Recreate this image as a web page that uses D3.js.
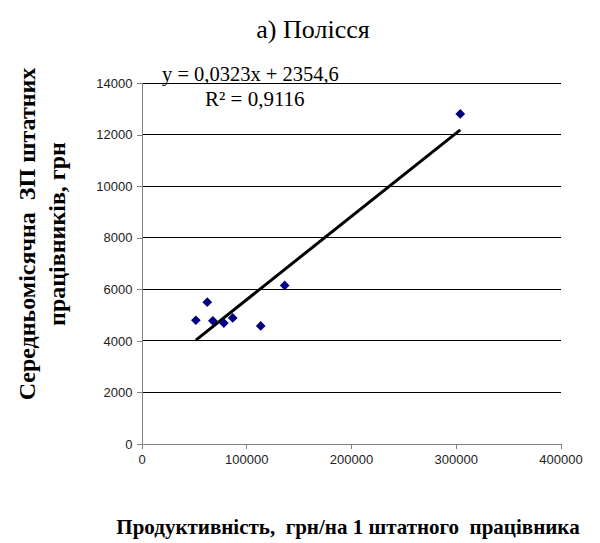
<!DOCTYPE html>
<html><head><meta charset="utf-8">
<script src="https://cdn.jsdelivr.net/npm/d3@7"></script>
<style>body{margin:0;background:#fff}</style>
</head><body>
<svg id="c" width="600" height="543"></svg>
<script>
const xValues = [51900, 62800, 68100, 78600, 87100, 113800, 136700, 304300];
const yValues = [4800, 5500, 4780, 4690, 4890, 4580, 6150, 12800];
const xTicks = [0, 100000, 200000, 300000, 400000];
const yTicks = [0, 2000, 4000, 6000, 8000, 10000, 12000, 14000];
const slope = 0.0323, intercept = 2354.6;
const title = "а) Полісся";
const eqText = "y = 0,0323x + 2354,6";
const r2Text = "R² = 0,9116";
const yTitle = ["Середньомісячна  ЗП штатних", "працівників, грн"];
const xTitle = "Продуктивність,  грн/на 1 штатного  працівника";

const svg = d3.select("#c");
const L = 141.5, R = 560.5, T = 83, B = 444;
const x = d3.scaleLinear().domain([0, 400000]).range([L, R]);
const y = d3.scaleLinear().domain([0, 14000]).range([B, T]);

// gridlines
svg.append("g").selectAll("line").data(yTicks.filter(d => d > 0)).join("line")
  .attr("x1", L).attr("x2", R).attr("y1", d => y(d)).attr("y2", d => y(d))
  .attr("stroke", "#000").attr("stroke-width", 1).attr("shape-rendering", "crispEdges");

const yAxis = svg.append("g").attr("transform", `translate(${L},0)`)
  .call(d3.axisLeft(y).tickValues(yTicks).tickSize(5).tickPadding(4).tickFormat(d3.format("d")));
const xAxis = svg.append("g").attr("transform", `translate(0,${B})`)
  .call(d3.axisBottom(x).tickValues(xTicks).tickSize(5).tickPadding(6).tickFormat(d3.format("d")));
[yAxis, xAxis].forEach(a => {
  a.selectAll("path,line").attr("stroke", "#808080").attr("shape-rendering", "crispEdges");
  a.selectAll("text").attr("font-family", "Liberation Sans, Arial, sans-serif").attr("font-size", 13).attr("fill", "#222");
});

// trend line
const xMin = d3.min(xValues), xMax = d3.max(xValues);
svg.append("line")
  .attr("x1", x(xMin)).attr("y1", y(slope * xMin + intercept))
  .attr("x2", x(xMax)).attr("y2", y(slope * xMax + intercept))
  .attr("stroke", "#000").attr("stroke-width", 3);

// points
const sym = d3.symbol().type(d3.symbolDiamond2).size(60);
svg.append("g").selectAll("path").data(xValues.map((v, i) => [v, yValues[i]])).join("path")
  .attr("d", sym)
  .attr("transform", d => `translate(${x(d[0])},${y(d[1])})`)
  .attr("fill", "#000080");

const serif = "Liberation Serif, Times New Roman, serif";
svg.append("text").attr("x", 313).attr("y", 38).attr("text-anchor", "middle")
  .attr("font-family", serif).attr("font-size", 26).text(title);
svg.append("text").attr("x", 162).attr("y", 81)
  .attr("font-family", serif).attr("font-size", 20.5).text(eqText);
svg.append("text").attr("x", 205).attr("y", 106)
  .attr("font-family", serif).attr("font-size", 21).text(r2Text);

const yt = svg.append("text").attr("transform", "rotate(-90)")
  .attr("font-family", serif).attr("font-size", 24).attr("font-weight", "bold").attr("text-anchor", "middle")
  .style("white-space", "pre");
yt.append("tspan").attr("x", -234).attr("y", 35).text(yTitle[0]);
yt.append("tspan").attr("x", -234).attr("y", 65).text(yTitle[1]);

svg.append("text").attr("x", 348).attr("y", 534).attr("text-anchor", "middle")
  .attr("font-family", serif).attr("font-size", 21).attr("font-weight", "bold")
  .style("white-space", "pre").text(xTitle);
</script>
</body></html>
